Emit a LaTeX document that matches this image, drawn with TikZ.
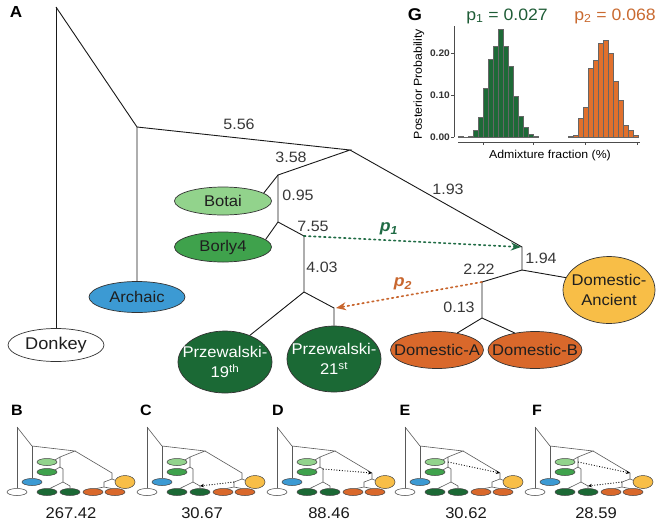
\documentclass[tikz,border=0pt]{standalone}
\usepackage{fontspec}
\setmainfont{Liberation Sans}[FakeStretch=1.07]
\usetikzlibrary{arrows.meta,shapes.geometric}
\definecolor{cArc}{HTML}{3C9AD3}
\definecolor{cBot}{HTML}{92D38C}
\definecolor{cBor}{HTML}{3FA24C}
\definecolor{cPrz}{HTML}{1B6935}
\definecolor{cDA}{HTML}{F8BE47}
\definecolor{cDom}{HTML}{D9682B}
\definecolor{cHG}{HTML}{1D6A37}
\definecolor{cHO}{HTML}{E1702C}
\definecolor{cPa}{HTML}{1F6B44}
\definecolor{cPb}{HTML}{C8662E}
\definecolor{cTxG}{HTML}{1E5C36}
\definecolor{cTxO}{HTML}{C96A30}
\begin{document}
\begin{tikzpicture}[x=1pt,y=-1pt,
  tree/.style={draw=black!90,line width=0.9pt},
  ell/.style={ellipse,draw=black!80,line width=0.7pt,inner sep=0pt},
  lab/.style={font=\fontsize{15.5}{20}\selectfont,text=black!88,align=center,inner sep=0pt},
  labw/.style={lab,text=white},
  num/.style={font=\fontsize{15}{16}\selectfont,text=black!78,inner sep=0pt},
  admix/.style={dash pattern=on 1.6pt off 3.4pt,line width=1.7pt,line cap=round},
  plet/.style={font=\fontsize{15}{16}\selectfont\bfseries,inner sep=0pt},
  pnum/.style={font=\fontsize{15.5}{16}\selectfont,inner sep=0pt,text=black!90},
  mtree/.style={draw=black!65,line width=0.6pt},
  mell/.style={ellipse,draw=black!75,line width=0.5pt,inner sep=0pt,minimum width=20pt,minimum height=7pt},
  madm/.style={draw=black,dash pattern=on 0.9pt off 1.8pt,line width=0.9pt,-{Stealth[length=4pt,width=3.5pt]}},
  minitree/.pic={
    \coordinate (-r) at (17,7);
    \coordinate (-n1) at (32,26);
    \coordinate (-n2) at (75,31);
    \coordinate (-n3) at (60,37);
    \coordinate (-m) at (60,42);
    \coordinate (-n4) at (60,47);
    \coordinate (-n5) at (63,49);
    \coordinate (-n6) at (63,62);
    \coordinate (-n7) at (70,66);
    \coordinate (-n8) at (112,53);
    \coordinate (-n9) at (112,59);
    \coordinate (-n10) at (104,62);
    \coordinate (-n11) at (104,67);
    \node[mell,fill=white] (-don) at (17,72) {};
    \node[mell,fill=cArc] (-arc) at (32,62) {};
    \node[mell,fill=cBot] (-bot) at (47,42) {};
    \node[mell,fill=cBor] (-bor) at (47,52) {};
    \node[mell,fill=cPrz] (-p19) at (47,72) {};
    \node[mell,fill=cPrz] (-p21) at (70,72) {};
    \node[mell,fill=cDom] (-doma) at (93,72) {};
    \node[mell,fill=cDom] (-domb) at (115,72) {};
    \node[mell,fill=cDA,minimum height=13pt] (-da) at (125,62) {};
    \draw[mtree] (-r) -- (-don.north);
    \draw[mtree] (-r) -- (-n1) -- (-n2) -- (-n3) -- (-n4) -- (-n5) -- (-n6) -- (-n7) -- (-p21.north);
    \draw[mtree] (-n1) -- (-arc.north);
    \draw[mtree] (-n3) -- (-bot.15);
    \draw[mtree] (-n4) -- (-bor.15);
    \draw[mtree] (-n6) -- (-p19.50);
    \draw[mtree] (-n2) -- (-n8) -- (-n9) -- (-n10) -- (-n11) -- (-doma.45);
    \draw[mtree] (-n9) -- (-da.170);
    \draw[mtree] (-n11) -- (-domb.135);
  }]
\useasboundingbox (0,0) rectangle (658,531);

% ---------- panel A ----------
\node[plet,font=\fontsize{16}{16}\selectfont\bfseries] (lA) at (16,12) {A};
\coordinate (r) at (56,7);
\coordinate (n1) at (137,127);
\coordinate (n2) at (350,150);
\coordinate (n3) at (278,175);
\coordinate (n4) at (278,222);
\coordinate (n5) at (304,236);
\coordinate (n6) at (304,292);
\coordinate (n7) at (334,308);
\coordinate (n8) at (522,247);
\coordinate (n9) at (522,270);
\coordinate (n10) at (482,282);
\coordinate (n11) at (482,318);

\node[ell,fill=white,minimum width=96pt,minimum height=33pt] (don) at (56,345) {};
\node[lab,font=\fontsize{17}{20}\selectfont] (dont) at (don) {Donkey};
\node[ell,fill=cArc,minimum width=96pt,minimum height=31pt] (arc) at (137,297) {};
\node[lab] (arct) at (arc) {Archaic};
\node[ell,fill=cBot,minimum width=97pt,minimum height=28pt] (bot) at (223,201) {};
\node[lab] (bott) at (bot) {Botai};
\node[ell,fill=cBor,minimum width=97pt,minimum height=30pt] (bor) at (223,247) {};
\node[lab] (bort) at (bor) {Borly4};
\node[ell,fill=cPrz,minimum width=94pt,minimum height=62pt] (p19) at (225,362) {};
\node[labw] (p19t) at (p19) {Przewalski-\\19\textsuperscript{th}};
\node[ell,fill=cPrz,minimum width=94pt,minimum height=66pt] (p21) at (334,359) {};
\node[labw] (p21t) at (p21) {Przewalski-\\21\textsuperscript{st}};
\node[ell,fill=cDA,minimum width=92pt,minimum height=67pt] (da) at (609,290) {};
\node[lab] (dat) at (da) {Domestic-\\Ancient};
\node[ell,fill=cDom,minimum width=93pt,minimum height=37pt] (doma) at (437,350) {};
\node[lab] (domat) at (doma) {Domestic-A};
\node[ell,fill=cDom,minimum width=94pt,minimum height=37pt] (domb) at (535,350) {};
\node[lab] (dombt) at (domb) {Domestic-B};

\draw[tree] (r) -- (don.north);
\draw[tree] (r) -- (n1) -- (arc.north);
\draw[tree] (n1) -- (n2) -- (n3) -- (n4) -- (n5) -- (n6) -- (n7) -- (p21.north);
\draw[tree] (n3) -- (bot.11);
\draw[tree] (n4) -- (bor.10);
\draw[tree] (n6) -- (p19.47);
\draw[tree] (n2) -- (n8) -- (n9) -- (n10) -- (n11) -- (doma.40);
\draw[tree] (n9) -- (da.164);
\draw[tree] (n11) -- (domb.140);

\node[num] (l556) at (239,124) {5.56};
\node[num] (l358) at (291,157) {3.58};
\node[num] (l193) at (448,189) {1.93};
\node[num] (l095) at (298,195) {0.95};
\node[num] (l755) at (313,226) {7.55};
\node[num] (l403) at (322,267) {4.03};
\node[num] (l194) at (541,258) {1.94};
\node[num] (l222) at (479,269) {2.22};
\node[num] (l013) at (459,307) {0.13};

\draw[admix,cPa,-{Stealth[length=10pt,width=8pt]}] (n5) -- ([xshift=-1pt]n8);
\draw[admix,cPb,-{Stealth[length=10pt,width=8pt]}] (n10) -- ([xshift=2pt]n7);
\node[font=\fontsize{16.5}{17}\selectfont\bfseries\itshape,text=cPa] (p1l) at (389,229) {p\textsubscript{1}};
\node[font=\fontsize{16.5}{17}\selectfont\bfseries\itshape,text=cPb] (p2l) at (403,284) {p\textsubscript{2}};

% ---------- panel G ----------
\node[plet,font=\fontsize{17}{17}\selectfont\bfseries] (lG) at (415,15) {G};
\node[font=\fontsize{16.5}{17}\selectfont,text=cTxG,inner sep=0pt] (gp1) at (507,16) {p\textsubscript{1} = 0.027};
\node[font=\fontsize{16.5}{17}\selectfont,text=cTxO,inner sep=0pt] (gp2) at (615,16) {p\textsubscript{2} = 0.068};
\foreach \h [count=\i from 0] in {1.3,0.4,1,7.3,20,49,78,90.7,108.3,90.7,70.7,41.3,20.7,10,3.3,1.3}
  \filldraw[fill=cHG,draw=black!60,line width=0.3pt] (458.3+5*\i,137.3) rectangle ++(5,-\h);
\foreach \h [count=\i from 0] in {0.7,2.3,19,30,69,77.3,94,96.7,84,55.7,37.3,11.7,7.3,2.3}
  \filldraw[fill=cHO,draw=black!60,line width=0.3pt] (568.3+5*\i,137.3) rectangle ++(5,-\h);
\draw[black!70,line width=0.5pt] (454,26) -- (454,137.3);
\foreach \y/\t in {137.3/0.00,95.3/0.10,53.3/0.20}{
  \draw[black!70,line width=0.5pt] (451,\y) -- (454,\y);
  \node[font=\fontsize{9.5}{10}\selectfont\bfseries,text=black!80,anchor=east,inner sep=0pt] at (450,\y) {\t};
}
\draw[black!70,line width=0.6pt] (458,142) -- (640,142);
\foreach \x in {483,533,585,637}
  \draw[black!70,line width=0.6pt] (\x,142) -- (\x,145);
\node[font=\fontsize{11.5}{12}\selectfont,rotate=90,inner sep=0pt] (gy) at (419,84) {Posterior Probability};
\node[font=\fontsize{11.5}{12}\selectfont,inner sep=0pt] (gx) at (550,156) {Admixture fraction (\%)};

% ---------- panels B-F ----------
\pic (B) at (0,420) {minitree};
\pic (C) at (130,420) {minitree};
\pic (D) at (260,420) {minitree};
\pic (E) at (388,420) {minitree};
\pic (F) at (518,420) {minitree};

\draw[madm] (C-n10) -- (C-n7);
\draw[madm] (D-n5) -- (D-n8);
\draw[madm] (E-m) -- (E-n8);
\draw[madm] (F-m) -- (F-n8);
\draw[madm] (F-n10) -- (F-n7);

\node[plet] (lB) at (17,410) {B};
\node[plet] (lC) at (146,410) {C};
\node[plet] (lD) at (278,410) {D};
\node[plet] (lE) at (405,410) {E};
\node[plet] (lF) at (537,410) {F};
\node[pnum] (vB) at (71,513) {267.42};
\node[pnum] (vC) at (202,513) {30.67};
\node[pnum] (vD) at (329,513) {88.46};
\node[pnum] (vE) at (466,513) {30.62};
\node[pnum] (vF) at (596,513) {28.59};
\end{tikzpicture}
\end{document}
